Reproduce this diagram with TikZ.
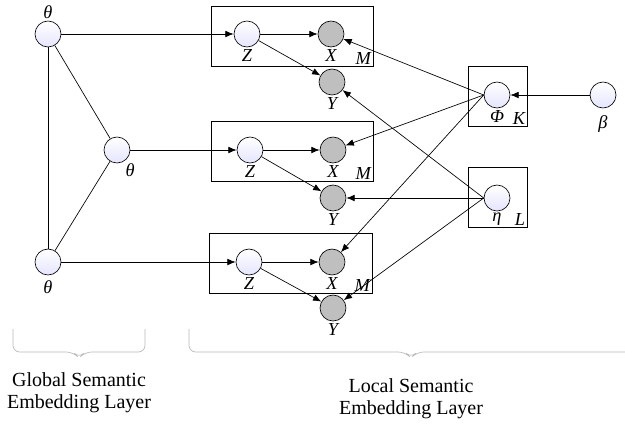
\documentclass[tikz,border=0pt]{standalone}
\usepackage{fontspec}
\setmainfont{Liberation Serif}
\usetikzlibrary{arrows.meta}
\begin{document}
\begin{tikzpicture}[x=0.6pt,y=-0.6pt]
    % Define styles
    \tikzstyle{latent}=[circle,draw,top color=white,bottom color=blue!10,minimum size=15.6pt,inner sep=0pt]
    \tikzstyle{observed}=[circle,draw,fill=gray!50,minimum size=15.6pt,inner sep=0pt]
    \tikzstyle{lbl}=[font=\itshape\fontsize{11}{12}\selectfont,inner sep=1pt]
    \tikzstyle{outedge}=[->,>={Latex[length=5pt,width=4pt]}]
    \tikzstyle{undiredge}=[-]
    \tikzstyle{plate}=[draw]
    \tikzstyle{brace}=[gray!55,rounded corners=4pt]
    \useasboundingbox (0,0) rectangle (625,426);

    % Draw the plates
    \draw[plate] (211,6) rectangle (373,66) node[lbl,anchor=south east] {M};
    \draw[plate] (211,121) rectangle (373,181) node[lbl,anchor=south east] {M};
    \draw[plate] (209,233) rectangle (372,293) node[lbl,anchor=south east] {M};
    \draw[plate] (468,66) rectangle (527,126) node[lbl,anchor=south east] {K};
    \draw[plate] (468,167) rectangle (527,227) node[lbl,anchor=south east] {L};

    % Draw the nodes
    \node[latent,label={[lbl]above:θ}] (t1) at (48,34) {};
    \node[latent,label={[lbl]-60:θ}] (t2) at (117,150) {};
    \node[latent,label={[lbl,label distance=2pt]below:θ}] (t3) at (48,262) {};

    \node[latent,label={[lbl]below:Z}] (z1) at (247,34) {};
    \node[observed,label={[lbl]below:X}] (x1) at (331,34) {};
    \node[observed,label={[lbl]below:Y}] (y1) at (332,82) {};

    \node[latent,label={[lbl]below:Z}] (z2) at (250,150) {};
    \node[observed,label={[lbl]below:X}] (x2) at (333,150) {};
    \node[observed,label={[lbl]below:Y}] (y2) at (333,198) {};

    \node[latent,label={[lbl]below:Z}] (z3) at (249,262) {};
    \node[observed,label={[lbl]below:X}] (x3) at (332,262) {};
    \node[observed,label={[lbl]below:Y}] (y3) at (333,308) {};

    \node[latent,label={[lbl]below:Φ}] (phi) at (497,95) {};
    \node[latent,label={[lbl,label distance=3pt]below:β}] (beta) at (603,95) {};
    \node[latent,label={[lbl]below:η}] (eta) at (497,198) {};

    % Draw the edges
    \draw[undiredge] (t1) -- (t2);
    \draw[undiredge] (t1) -- (t3);
    \draw[undiredge] (t2) -- (t3);
    \draw[outedge] (t1) -- (z1);
    \draw[outedge] (t2) -- (z2);
    \draw[outedge] (t3) -- (z3);
    \foreach \i in {1,2,3} {
        \draw[outedge] (z\i) -- (x\i);
        \draw[outedge] (z\i) -- (y\i);
        \draw[outedge] (phi.west) -- (x\i);
        \draw[outedge] (eta.west) -- (y\i);
    }
    \draw[outedge] (beta) -- (phi);

    % Add layer braces
    \draw[brace] (13,329) -- (13,352) -- (73,352) -- (79,358) -- (85,352) -- (145,352) -- (145,329);
    \draw[brace] (189,329) -- (189,352) -- (405,352) -- (411,358) -- (417,352) -- (626,352);
    \node[align=center,font=\fontsize{12}{13}\selectfont] (global) at (79,393) {Global Semantic\\Embedding Layer};
    \node[align=center,font=\fontsize{12}{13}\selectfont] (local) at (411,399) {Local Semantic\\Embedding Layer};
\end{tikzpicture}
\end{document}
